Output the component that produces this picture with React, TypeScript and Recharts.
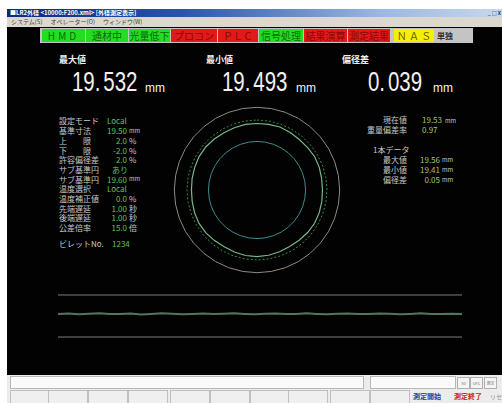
import {
  Line,
  LineChart,
  PolarAngleAxis,
  PolarRadiusAxis,
  Radar,
  RadarChart,
  XAxis,
  YAxis,
} from "recharts";

const JP = "'Noto Sans CJK JP', 'Noto Sans', sans-serif";
const NUM = "'Liberation Sans', 'Noto Sans', sans-serif";

// status lamps on the top strip
const STATUS_LABELS = ["HMD", "通材中", "光量低下", "プロコン", "ＰＬＣ", "信号処理", "結果演算", "測定結果", "Ｎ Ａ Ｓ"];
const STATUS_STATES = ["on", "on", "on", "err", "err", "on", "err", "err", "warn"];
const STATUS_BOXES = [
  [42, 43],
  [86, 42],
  [129, 41],
  [171, 46],
  [218, 40],
  [259, 44],
  [304, 43],
  [348, 42],
  [394, 40],
];

// big readouts
const READOUT_LABELS = ["最大値", "最小値", "偏径差"];
const READOUT_VALUES = ["19.532", "19.493", "0.039"];

// left settings list
const PARAM_LABELS = [
  "設定モード",
  "基準寸法",
  "上　　限",
  "下　　限",
  "許容偏径差",
  "サブ基準円",
  "サブ基準円",
  "温度選択",
  "温度補正値",
  "先端遅延",
  "後端遅延",
  "公差倍率",
];
const PARAM_VALUES = ["Local", "19.50", "2.0", "-2.0", "2.0", "あり", "19.60", "Local", "0.0", "1.00", "1.00", "15.0"];
const PARAM_UNITS = ["", "mm", "%", "%", "%", "", "mm", "", "%", "秒", "秒", "倍"];
const BILLET_NO = "1234";

// right side figures
const NOW_LABELS = ["現在値", "重量偏差率"];
const NOW_VALUES = ["19.53", "0.97"];
const NOW_UNITS = ["mm", ""];
const PIECE_LABELS = ["最大値", "最小値", "偏径差"];
const PIECE_VALUES = ["19.56", "19.41", "0.05"];

// cross-section profile (diameter per angle, mm)
const ANGLES = [
  "0", "10", "20", "30", "40", "50", "60", "70", "80", "90", "100", "110",
  "120", "130", "140", "150", "160", "170", "180", "190", "200", "210", "220", "230",
  "240", "250", "260", "270", "280", "290", "300", "310", "320", "330", "340", "350",
];
const PROFILE = [
  19.52, 19.525, 19.532, 19.518, 19.505, 19.51, 19.522, 19.515, 19.5, 19.496, 19.505, 19.514,
  19.52, 19.512, 19.5, 19.493, 19.502, 19.515, 19.524, 19.52, 19.508, 19.5, 19.51, 19.525,
  19.53, 19.518, 19.505, 19.498, 19.506, 19.516, 19.528, 19.53, 19.52, 19.51, 19.515, 19.522,
];
const UPPER_LIMIT = 19.89;
const SUB_CIRCLE = 19.6;
const LOWER_LIMIT = 19.11;

// length trend
const TREND = [
  19.51, 19.512, 19.508, 19.511, 19.513, 19.509, 19.51, 19.512, 19.507, 19.51,
  19.513, 19.511, 19.508, 19.51, 19.512, 19.509, 19.511, 19.513, 19.51, 19.508,
  19.511, 19.512, 19.509, 19.51, 19.513, 19.51, 19.508, 19.511, 19.512, 19.509,
  19.51, 19.512, 19.511, 19.508, 19.51, 19.513, 19.51, 19.509, 19.511, 19.51,
];
const TREND_UPPER = 19.6;
const TREND_LOWER = 19.4;

const BOTTOM_BUTTONS = [10, 48, 88, 128, 170, 210, 250, 288, 330, 370];

const lampColours: Record<string, [string, string]> = {
  on: ["#22dd22", "#0a6a0a"],
  err: ["#e01a1a", "#8a0808"],
  warn: ["#f4f000", "#6a6000"],
};

function SmallText({ x, y, children, color = "#c8c8c8", align = "left", size = 8 }: any) {
  return (
    <div
      style={{
        position: "absolute",
        left: align === "right" ? undefined : x,
        right: align === "right" ? 502 - x : undefined,
        top: y - size * 0.7,
        fontSize: size,
        lineHeight: `${size * 1.4}px`,
        color,
        fontFamily: JP,
        whiteSpace: "nowrap",
      }}
    >
      {children}
    </div>
  );
}

function Readout({
  label,
  value,
  labelX,
  valueX,
  mmX,
}: {
  label: string;
  value: string;
  labelX: number;
  valueX: number;
  mmX: number;
}) {
  const [whole, frac] = value.split(".");
  return (
    <>
      <div
        style={{
          position: "absolute",
          left: labelX,
          top: 54,
          fontSize: 9,
          fontWeight: 700,
          color: "#f0f0f0",
          fontFamily: JP,
          lineHeight: "11px",
        }}
      >
        {label}
      </div>
      <div
        style={{
          position: "absolute",
          left: valueX,
          top: 68,
          fontSize: 28,
          lineHeight: "28px",
          color: "#f2f2f2",
          fontFamily: NUM,
          whiteSpace: "nowrap",
          transform: "scaleX(0.73)",
          transformOrigin: "left center",
        }}
      >
        {whole}.<span style={{ marginLeft: 4 }}>{frac}</span>
      </div>
      <div
        style={{
          position: "absolute",
          left: mmX,
          top: 82,
          fontSize: 12,
          lineHeight: "12px",
          color: "#f2f2f2",
          fontFamily: NUM,
        }}
      >
        mm
      </div>
    </>
  );
}

export default function App() {
  const radarRows = ANGLES.map((angle, i) => ({
    angle,
    upper: UPPER_LIMIT,
    sub: SUB_CIRCLE,
    profile: PROFILE[i],
    lower: LOWER_LIMIT,
  }));
  const trendRows = TREND.map((v, i) => ({ i, upper: TREND_UPPER, value: v, lower: TREND_LOWER }));

  return (
    <div
      style={{
        position: "absolute",
        left: 0,
        top: 0,
        width: 502,
        height: 403,
        overflow: "hidden",
        background: "#ffffff",
      }}
    >
      {/* title bar */}
      <div
        style={{
          position: "absolute",
          left: 7,
          top: 9,
          width: 495,
          height: 8,
          background: "linear-gradient(90deg, #0c2a78 0%, #2a54a8 35%, #9ab8e0 75%, #c8d8ee 100%)",
          color: "#ffffff",
          fontFamily: JP,
          fontSize: 6,
          fontWeight: 700,
          lineHeight: "8px",
          paddingLeft: 3,
          whiteSpace: "nowrap",
        }}
      >
        ■LR2外径 &lt;10000:F200.xml&gt; [外径測定表示]
        <span style={{ position: "absolute", right: 4, top: 0, color: "#203050", fontSize: 5 }}>_ □ X</span>
      </div>
      {/* menu bar */}
      <div
        style={{
          position: "absolute",
          left: 7,
          top: 17,
          width: 495,
          height: 10,
          background: "#dcd8d0",
          color: "#404040",
          fontFamily: JP,
          fontSize: 6,
          lineHeight: "10px",
          whiteSpace: "nowrap",
        }}
      >
        <span style={{ marginLeft: 4 }}>システム(S)</span>
        <span style={{ marginLeft: 8 }}>オペレーター(O)</span>
        <span style={{ marginLeft: 8 }}>ウィンドウ(W)</span>
      </div>
      {/* black panel */}
      <div style={{ position: "absolute", left: 7, top: 27, width: 495, height: 348, background: "#020202" }} />
      {/* status strip */}
      <div style={{ position: "absolute", left: 40, top: 28, width: 433, height: 15, background: "#c4c4c4" }} />
      {STATUS_LABELS.map((label, i) => {
        const [x, w] = STATUS_BOXES[i];
        const [bg, fg] = lampColours[STATUS_STATES[i]];
        return (
          <div
            key={label}
            style={{
              position: "absolute",
              left: x,
              top: 29,
              width: w,
              height: 13,
              background: bg,
              color: fg,
              fontFamily: JP,
              fontSize: 10,
              lineHeight: "13px",
              textAlign: "center",
              letterSpacing: i === 0 ? 3 : 0,
              whiteSpace: "nowrap",
            }}
          >
            {label}
          </div>
        );
      })}
      <div
        style={{
          position: "absolute",
          left: 437,
          top: 29,
          fontFamily: JP,
          fontSize: 8,
          lineHeight: "13px",
          color: "#303030",
          fontWeight: 700,
        }}
      >
        単独
      </div>

      {/* big readouts */}
      <Readout label={READOUT_LABELS[0]} value={READOUT_VALUES[0]} labelX={59} valueX={72} mmX={145} />
      <Readout label={READOUT_LABELS[1]} value={READOUT_VALUES[1]} labelX={206} valueX={222} mmX={296} />
      <Readout label={READOUT_LABELS[2]} value={READOUT_VALUES[2]} labelX={342} valueX={368} mmX={433} />

      {/* settings list */}
      {PARAM_LABELS.map((label, i) => {
        const y = 121 + i * 9.7;
        const unit = PARAM_UNITS[i];
        return (
          <div key={`p${i}`}>
            <SmallText x={59} y={y}>
              {label}
            </SmallText>
            {unit === "" ? (
              <SmallText x={PARAM_VALUES[i] === "あり" ? 112 : 107} y={y} color="#5cc25c">
                {PARAM_VALUES[i]}
              </SmallText>
            ) : (
              <>
                <SmallText x={127} y={y} color="#5cc25c" align="right">
                  {PARAM_VALUES[i]}
                </SmallText>
                <SmallText x={129} y={y} color="#c8c8c8" size={unit === "mm" ? 6 : 8}>
                  {unit}
                </SmallText>
              </>
            )}
          </div>
        );
      })}
      <SmallText x={59} y={244}>
        ビレットNo.
      </SmallText>
      <SmallText x={112} y={244} color="#5cc25c">
        {BILLET_NO}
      </SmallText>

      {/* right figures */}
      {NOW_LABELS.map((label, i) => (
        <div key={`n${i}`}>
          <SmallText x={407} y={120 + i * 10} align="right">
            {label}
          </SmallText>
          <SmallText x={422} y={120 + i * 10} color="#a9c46a">
            {NOW_VALUES[i]}
            {NOW_UNITS[i] && <span style={{ fontSize: 6, color: "#c8c8c8", marginLeft: 3 }}>{NOW_UNITS[i]}</span>}
          </SmallText>
        </div>
      ))}
      <SmallText x={373} y={150}>
        1本データ
      </SmallText>
      {PIECE_LABELS.map((label, i) => (
        <div key={`d${i}`}>
          <SmallText x={407} y={160 + i * 10} align="right">
            {label}
          </SmallText>
          <SmallText x={440} y={160 + i * 10} color="#a9c46a" align="right">
            {PIECE_VALUES[i]}
          </SmallText>
          <SmallText x={442} y={160 + i * 10} size={6}>
            mm
          </SmallText>
        </div>
      ))}

      {/* cross-section */}
      <div style={{ position: "absolute", left: 157, top: 90 }}>
        <RadarChart width={200} height={200} data={radarRows} outerRadius={87.5} margin={{ top: 0, right: 0, bottom: 0, left: 0 }}>
          <PolarAngleAxis dataKey="angle" tick={false} axisLine={false} tickLine={false} />
          <PolarRadiusAxis domain={[18.18, 19.89]} allowDataOverflow tick={false} axisLine={false} tickLine={false} />
          <Radar dataKey="upper" stroke="#8c8c80" strokeWidth={1} fill="none" dot={false} isAnimationActive={false} />
          <Radar dataKey="sub" stroke="#3a8a3c" strokeWidth={1} strokeDasharray="2 2" fill="none" dot={false} isAnimationActive={false} />
          <Radar dataKey="profile" stroke="#7db58a" strokeWidth={1.2} fill="none" dot={false} isAnimationActive={false} />
          <Radar dataKey="lower" stroke="#3f8c8c" strokeWidth={1} fill="none" dot={false} isAnimationActive={false} />
        </RadarChart>
      </div>

      {/* length trend */}
      <div style={{ position: "absolute", left: 58, top: 290 }}>
        <LineChart width={404} height={52} data={trendRows} margin={{ top: 5, right: 0, bottom: 5, left: 0 }}>
          <XAxis type="number" dataKey="i" domain={[0, TREND.length - 1]} hide />
          <YAxis type="number" domain={[TREND_LOWER, TREND_UPPER]} hide />
          <Line dataKey="upper" stroke="#555555" strokeWidth={1.5} dot={false} isAnimationActive={false} />
          <Line dataKey="value" stroke="#56745e" strokeWidth={2} dot={false} isAnimationActive={false} />
          <Line dataKey="lower" stroke="#555555" strokeWidth={1.5} dot={false} isAnimationActive={false} />
        </LineChart>
      </div>

      {/* bottom input row */}
      <div style={{ position: "absolute", left: 7, top: 375, width: 495, height: 28, background: "#ececec" }} />
      <div style={{ position: "absolute", left: 10, top: 376, width: 352, height: 11, background: "#fafafa", border: "1px solid #b8b8b8" }} />
      <div style={{ position: "absolute", left: 370, top: 376, width: 84, height: 11, background: "#fafafa", border: "1px solid #b8b8b8" }} />
      {[
        [457, "50"],
        [470, "UFC"],
        [484, "測定"],
      ].map(([x, t]) => (
        <div
          key={String(x)}
          style={{
            position: "absolute",
            left: Number(x),
            top: 377,
            width: 11,
            height: 10,
            border: "1px solid #b0b0b0",
            background: "#f4f4f4",
            fontSize: 4,
            lineHeight: "10px",
            textAlign: "center",
            color: "#707070",
            fontFamily: JP,
            overflow: "hidden",
          }}
        >
          {t}
        </div>
      ))}
      {BOTTOM_BUTTONS.map((x, i) => (
        <div
          key={`b${i}`}
          style={{
            position: "absolute",
            left: x,
            top: 390,
            width: 38,
            height: 14,
            border: "1px solid #c0c0c0",
            background: "#efefef",
          }}
        />
      ))}
      <div style={{ position: "absolute", left: 413, top: 392, fontSize: 7, lineHeight: "9px", color: "#2040a0", fontFamily: JP, fontWeight: 700 }}>
        測定開始
      </div>
      <div style={{ position: "absolute", left: 454, top: 392, fontSize: 7, lineHeight: "9px", color: "#d02020", fontFamily: JP, fontWeight: 700 }}>
        測定終了
      </div>
      <div style={{ position: "absolute", left: 490, top: 392, fontSize: 6, lineHeight: "9px", color: "#909090", fontFamily: JP }}>
        リセ
      </div>
    </div>
  );
}
